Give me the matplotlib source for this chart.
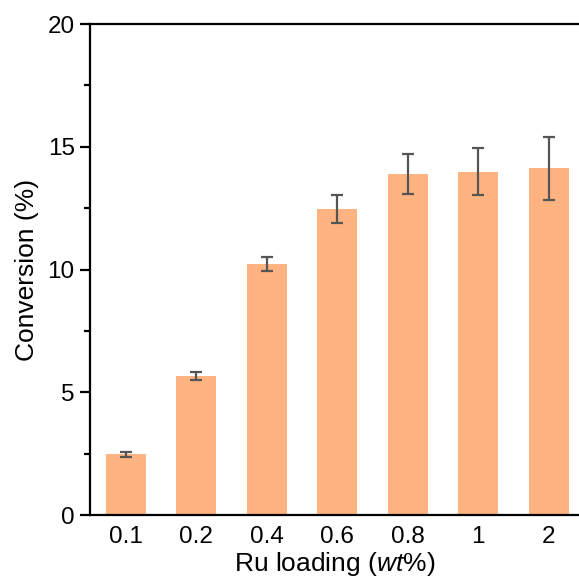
import numpy as np
import matplotlib
matplotlib.use('Agg')
import matplotlib.pyplot as plt
from matplotlib.ticker import MultipleLocator

# Ru loading categories and measured conversion
loadings = ['0.1', '0.2', '0.4', '0.6', '0.8', '1', '2']
conversion = [2.48, 5.66, 10.22, 12.46, 13.89, 13.98, 14.12]
conversion_err = [0.10, 0.16, 0.27, 0.56, 0.81, 0.96, 1.27]

plt.rcParams['font.family'] = ['Liberation Sans', 'DejaVu Sans']
plt.rcParams['mathtext.fontset'] = 'custom'
plt.rcParams['mathtext.it'] = 'Liberation Sans:italic'

fig = plt.figure(figsize=(5.79, 5.83), dpi=100)
ax = fig.add_axes([0.1554, 0.1166, 0.8446, 0.8422])

x = np.arange(len(loadings))
ax.bar(x, conversion, width=0.57, color='#FFB380', edgecolor='none',
       yerr=conversion_err, ecolor='#555555',
       error_kw=dict(elinewidth=1.6, capsize=4, capthick=1.6))

ax.set_xlim(-0.51, 6.43)
ax.set_ylim(0, 20)
ax.set_xticks(x)
ax.set_xticklabels(loadings)
ax.yaxis.set_major_locator(MultipleLocator(5))
ax.yaxis.set_minor_locator(MultipleLocator(2.5))

for side in ['left', 'bottom', 'top']:
    ax.spines[side].set_linewidth(1.6)
ax.spines['right'].set_visible(False)

ax.tick_params(axis='y', which='major', direction='out', length=7, width=1.6,
               labelsize=17.5, pad=4)
ax.tick_params(axis='y', which='minor', direction='out', length=4, width=1.6)
ax.tick_params(axis='x', length=0, labelsize=17.5, pad=8)

ax.set_ylabel('Conversion (%)', fontsize=19, labelpad=6)
ax.set_xlabel('Ru loading ($\\mathit{wt}$%)', fontsize=19, labelpad=1)

fig.savefig('out.png', dpi=100)
